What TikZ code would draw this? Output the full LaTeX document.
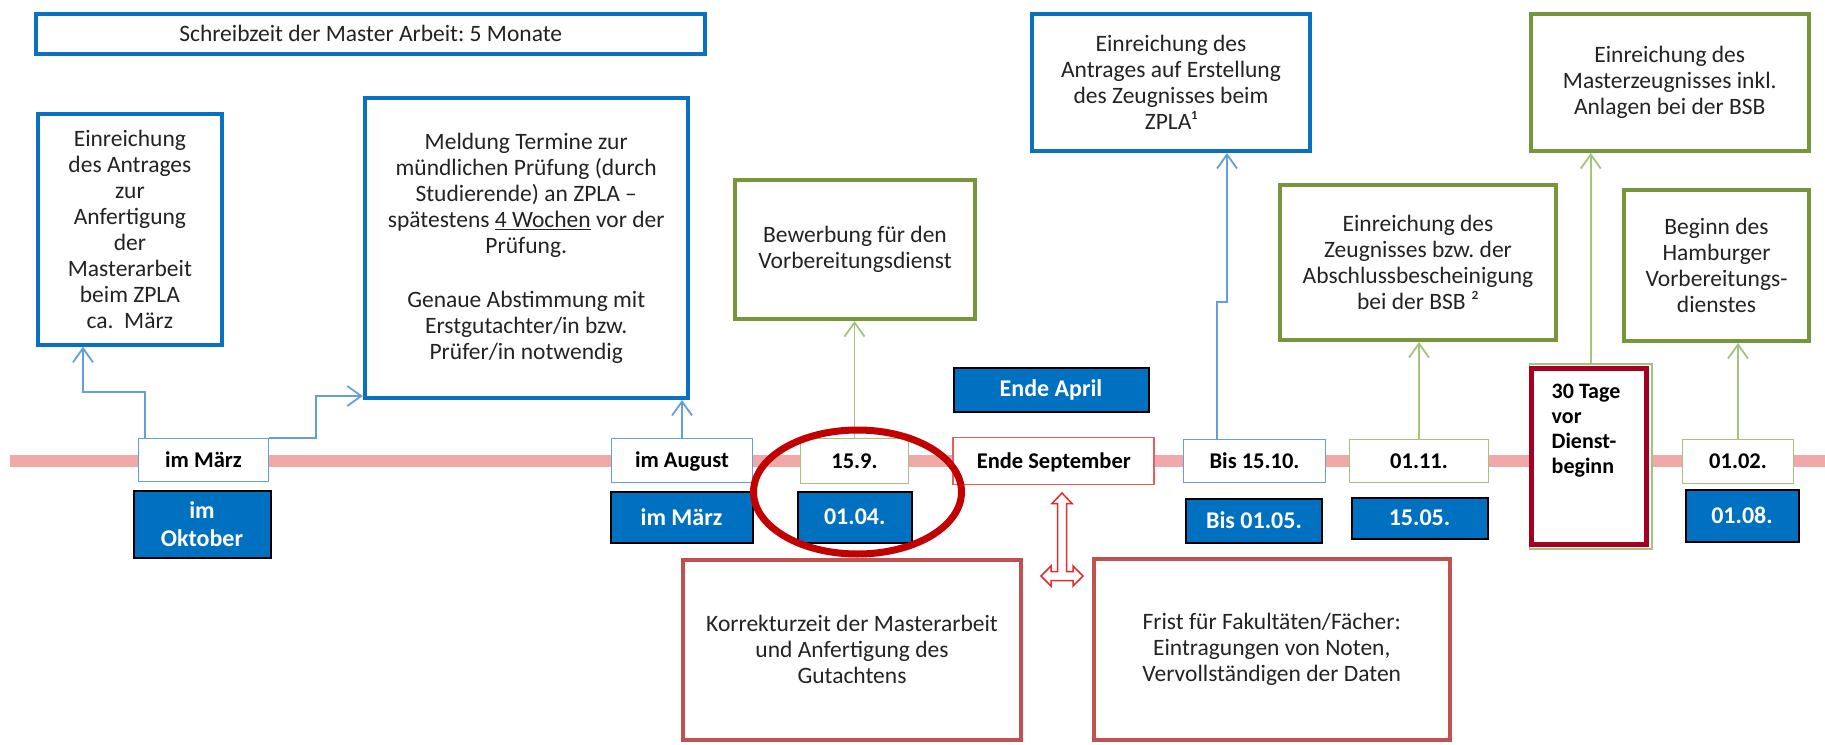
\documentclass[tikz,border=0pt]{standalone}
\usepackage{fontspec}
\setmainfont{Carlito}
\usetikzlibrary{arrows.meta}
\definecolor{bthick}{RGB}{10,112,192}
\definecolor{bthin}{RGB}{100,160,215}
\definecolor{gthick}{RGB}{119,150,60}
\definecolor{gthin}{RGB}{165,195,125}
\definecolor{rthin}{RGB}{230,95,95}
\definecolor{redbox}{RGB}{195,80,80}
\definecolor{rell}{RGB}{195,0,0}
\definecolor{rdark}{RGB}{165,0,33}
\definecolor{tline}{RGB}{240,168,168}
\definecolor{bfill}{RGB}{0,112,192}
\definecolor{txt}{RGB}{35,35,35}
\definecolor{rarr}{RGB}{225,45,45}
\frenchspacing
\begin{document}
\begin{tikzpicture}[x=1pt,y=-1pt,
  box/.style={draw, line width=4pt, fill=white, align=center, inner sep=0pt, text=txt, font=\fontsize{23.5}{26}\selectfont},
  bbox/.style={box, draw=bthick},
  gbox/.style={box, draw=gthick},
  rbox/.style={box, draw=redbox},
  date/.style={draw, line width=1.8pt, fill=white, inner sep=0pt, text=black, text height=19.5pt, text depth=5pt, font=\bfseries\fontsize{22.5}{26}\selectfont},
  bdate/.style={date, draw=bthin},
  gdate/.style={date, draw=gthin},
  rdate/.style={date, draw=rthin},
  fdate/.style={draw=black, line width=2pt, fill=bfill, text=white, align=center, inner sep=0pt, font=\bfseries\fontsize{24}{28}\selectfont},
  conn/.style={line width=1.8pt, -{Straight Barb[length=14pt,width=20pt]}},
  bconn/.style={conn, draw=bthin},
  gconn/.style={conn, draw=gthin},
]
\useasboundingbox (0,0) rectangle (1825,744);
\fill[white] (0,0) rectangle (1825,744);

% timeline
\draw[tline, line width=12pt] (10,461) -- (1825,461);

% upper boxes
\node[bbox, minimum width=668.6pt, minimum height=40.5pt] (title) at (370.7,33.75) {Schreibzeit der Master Arbeit: 5 Monate};
\node[bbox, minimum width=184.2pt, minimum height=231pt] (b1) at (129.9,229.2) {Einreichung\\des Antrages\\zur\\Anfertigung\\der\\Masterarbeit\\beim ZPLA\\ca.\ \ März};
\node[bbox, minimum width=322.9pt, minimum height=300pt] (mel) at (526.25,248) {Meldung Termine zur\\mündlichen Prüfung (durch\\Studierende) an ZPLA –\\spätestens \underline{4 Wochen} vor der\\Prüfung.\\[28pt]Genaue Abstimmung mit\\Erstgutachter/in bzw.\\Prüfer/in notwendig};
\node[gbox, minimum width=240pt, minimum height=139pt] (bew) at (855,249.5) {Bewerbung für den\\Vorbereitungsdienst};
\node[bbox, minimum width=278pt, minimum height=137.3pt] (zpla) at (1171,82.35) {Einreichung des\\Antrages auf Erstellung\\des Zeugnisses beim\\ZPLA¹};
\node[gbox, minimum width=276pt, minimum height=155pt] (zeug) at (1418,262.5) {Einreichung des\\Zeugnisses bzw. der\\Abschlussbescheinigung\\bei der BSB ²};
\node[gbox, minimum width=278.5pt, minimum height=137pt] (mz) at (1669.75,82.5) {Einreichung des\\Masterzeugnisses inkl.\\Anlagen bei der BSB};
\node[gbox, minimum width=185pt, minimum height=151pt] (beg) at (1716.5,265.5) {Beginn des\\Hamburger\\Vorbereitungs-\\dienstes};

% lower boxes
\node[rbox, minimum width=338pt, minimum height=179.7pt] (kor) at (852,649.85) {Korrekturzeit der Masterarbeit\\und Anfertigung des\\Gutachtens};
\node[rbox, minimum width=356.5pt, minimum height=180.7pt] (fri) at (1271.75,649.35) {Frist für Fakultäten/Fächer:\\Eintragungen von Noten,\\Vervollständigen der Daten};

% connector helpers
\coordinate (c1) at (83,392);
\coordinate (c2) at (316,396);
\coordinate (c3) at (1217,302);
\coordinate (c4) at (1227,302);

% timeline date boxes
\node[bdate, minimum width=130pt, minimum height=43pt] (m1) at (203.5,460) {im März};
\node[bdate, minimum width=141pt, minimum height=44pt] (aug) at (682,460.5) {im August};
\node[gdate, minimum width=108pt, minimum height=45pt] (s159) at (854.5,461) {15.9.};
\node[rdate, minimum width=201pt, minimum height=47pt] (esep) at (1053.8,461) {Ende September};
\node[bdate, minimum width=142pt, minimum height=43pt] (b1510) at (1254.5,461) {Bis 15.10.};
\node[gdate, minimum width=139pt, minimum height=43pt] (n0111) at (1419,461) {01.11.};
\node[gdate, minimum width=122.5pt, minimum height=185pt] (gz) at (1590.75,456.5) {};
\node[draw=rdark, line width=5pt, fill=white, inner sep=0pt, minimum width=115pt, minimum height=176pt] (dienst) at (1589,456.5) {};
\node[anchor=north west, inner sep=0pt, align=left, text=black, font=\bfseries\fontsize{22}{25}\selectfont] (dtext) at (1551.5,384) {30 Tage\\vor\\Dienst-\\beginn};
\node[gdate, minimum width=111pt, minimum height=44pt] (f0102) at (1738,461.5) {01.02.};

% connectors
\draw[bconn] ([xshift=7pt]m1.north west) |- (c1) -- (c1 |- b1.south);
\draw[bconn] (m1.north east) -| (c2) -- (c2 -| mel.west);
\draw[bconn] (aug.north) -- (aug.north |- mel.south);
\draw[gconn] (s159.north) -- (s159.north |- bew.south);
\draw[bconn] (c3 |- b1510.north) -- (c3) -- (c4) -- (c4 |- zpla.south);
\draw[gconn] (n0111.north) -- (n0111.north |- zeug.south);
\draw[gconn] (gz.north) -- (gz.north |- mz.south);
\draw[gconn] (f0102.north) -- (f0102.north |- beg.south);

% filled blue date boxes
\node[fdate, minimum width=137pt, minimum height=67pt] (okt) at (202,524) {im\\Oktober};
\node[fdate, minimum width=142pt, minimum height=51pt] (marz2) at (681.5,517) {im März};
\node[fdate, minimum width=113.5pt, minimum height=51pt] (n0104) at (854.75,517) {01.04.};
\node[fdate, minimum width=195pt, minimum height=44pt] (eapr) at (1051,389.5) {Ende April};
\node[fdate, minimum width=135.8pt, minimum height=44pt] (b0105) at (1254,520.5) {Bis 01.05.};
\node[fdate, minimum width=136pt, minimum height=41pt] (n1505) at (1419.5,518) {15.05.};
\node[fdate, minimum width=113pt, minimum height=52pt] (n0108) at (1742,515.5) {01.08.};

% highlight ellipse
\draw[rell, line width=7pt] (857.5,492) ellipse [x radius=104, y radius=62];

% three-way hollow arrow
\draw[rarr, line width=1.5pt, fill=white, line join=miter]
  (1062,493) -- (1072,503.5) -- (1066.5,503.5) -- (1066.5,571.5) -- (1073,571.5) -- (1073,566)
  -- (1083,576) -- (1073,586) -- (1073,580.5) -- (1051,580.5) -- (1051,586) -- (1041,576)
  -- (1051,566) -- (1051,571.5) -- (1057.5,571.5) -- (1057.5,503.5) -- (1052,503.5) -- cycle;
\end{tikzpicture}
\end{document}
